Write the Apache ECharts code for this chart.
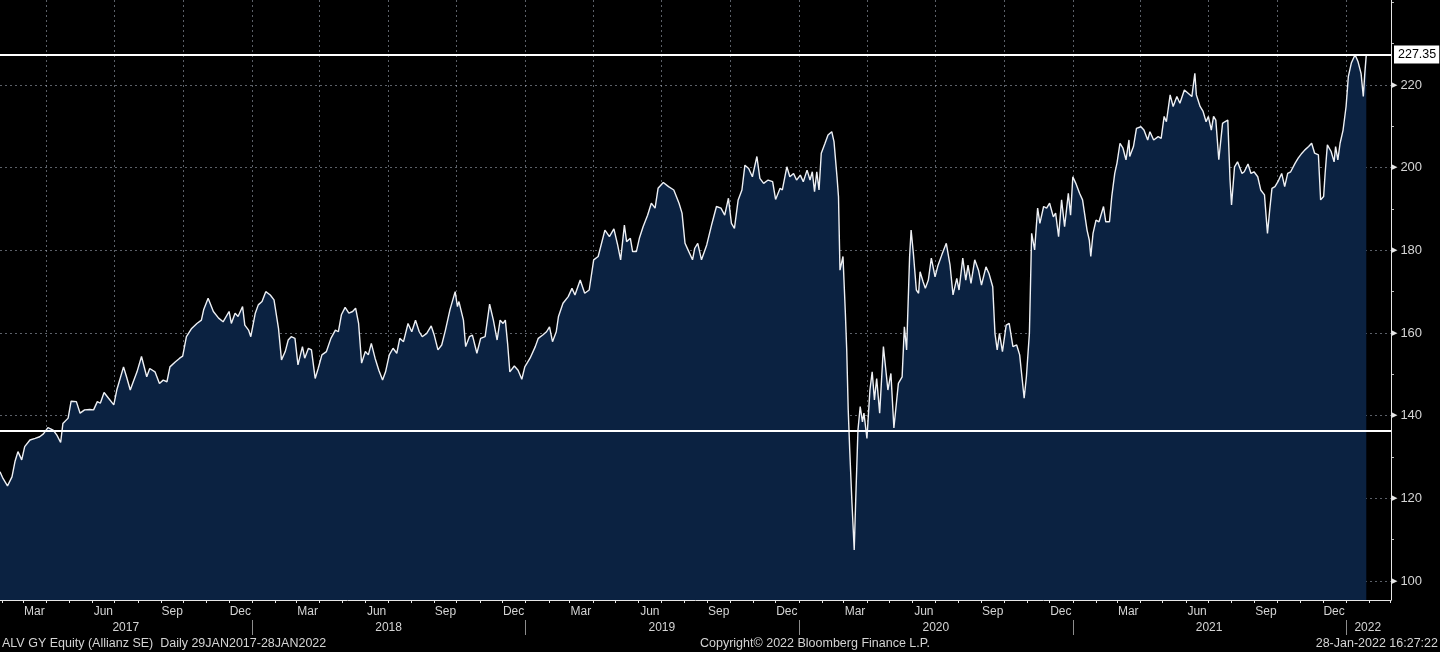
<!DOCTYPE html>
<html><head><meta charset="utf-8">
<script src="https://cdn.jsdelivr.net/npm/echarts@6/dist/echarts.min.js"></script>
<style>html,body{margin:0;padding:0;background:#000;}#c{width:1440px;height:652px;}</style>
</head><body><div id="c"></div>
<script>
// ---- data ----
const dates = [
'2017-01-29','2017-02-02','2017-02-08','2017-02-14','2017-02-18','2017-02-22','2017-02-27','2017-03-03','2017-03-10','2017-03-17',
'2017-03-23','2017-03-28','2017-04-03','2017-04-10','2017-04-15','2017-04-20','2017-04-23','2017-04-30','2017-05-04','2017-05-11',
'2017-05-16','2017-05-22','2017-05-29','2017-06-03','2017-06-08','2017-06-12','2017-06-17','2017-06-23','2017-06-30','2017-07-04',
'2017-07-13','2017-07-17','2017-07-22','2017-07-26','2017-07-31','2017-08-06','2017-08-13','2017-08-17','2017-08-24','2017-08-30',
'2017-09-04','2017-09-09','2017-09-13','2017-09-20','2017-09-26','2017-09-30','2017-10-05','2017-10-12','2017-10-19','2017-10-25',
'2017-10-28','2017-11-03','2017-11-10','2017-11-17','2017-11-23','2017-12-01','2017-12-04','2017-12-09','2017-12-13','2017-12-19',
'2017-12-22','2017-12-27','2017-12-30','2018-01-05','2018-01-09','2018-01-14','2018-01-19','2018-01-25','2018-01-30','2018-02-05',
'2018-02-09','2018-02-14','2018-02-18','2018-02-22','2018-02-27','2018-03-03','2018-03-09','2018-03-12','2018-03-17','2018-03-21',
'2018-03-26','2018-03-30','2018-04-04','2018-04-10','2018-04-16','2018-04-22','2018-04-26','2018-04-30','2018-05-05','2018-05-10',
'2018-05-15','2018-05-19','2018-05-23','2018-05-27','2018-06-01','2018-06-05','2018-06-09','2018-06-14','2018-06-19','2018-06-24',
'2018-06-28','2018-07-03','2018-07-08','2018-07-13','2018-07-17','2018-07-22','2018-07-28','2018-08-02','2018-08-07','2018-08-12',
'2018-08-16','2018-08-22','2018-08-28','2018-09-01','2018-09-06','2018-09-11','2018-09-16','2018-09-22','2018-09-29','2018-10-02',
'2018-10-04','2018-10-10','2018-10-13','2018-10-18','2018-10-22','2018-10-28','2018-11-02','2018-11-08','2018-11-14','2018-11-19',
'2018-11-24','2018-11-28','2018-12-02','2018-12-05','2018-12-08','2018-12-11','2018-12-17','2018-12-22','2018-12-27','2018-12-31',
'2019-01-07','2019-01-14','2019-01-18','2019-01-24','2019-01-29','2019-02-02','2019-02-06','2019-02-11','2019-02-14','2019-02-20',
'2019-02-27','2019-03-04','2019-03-08','2019-03-15','2019-03-21','2019-03-27','2019-04-02','2019-04-08','2019-04-17','2019-04-23',
'2019-04-29','2019-05-04','2019-05-08','2019-05-13','2019-05-16','2019-05-21','2019-05-24','2019-05-29','2019-06-02','2019-06-07',
'2019-06-13','2019-06-18','2019-06-23','2019-06-27','2019-07-04','2019-07-11','2019-07-18','2019-07-25','2019-07-29','2019-08-02',
'2019-08-06','2019-08-12','2019-08-15','2019-08-19','2019-08-24','2019-08-31','2019-09-07','2019-09-13','2019-09-19','2019-09-24',
'2019-09-29','2019-10-03','2019-10-07','2019-10-12','2019-10-17','2019-10-21','2019-10-26','2019-10-31','2019-11-06','2019-11-10',
'2019-11-15','2019-11-21','2019-11-27','2019-12-01','2019-12-07','2019-12-10','2019-12-16','2019-12-20','2019-12-25','2019-12-29',
'2020-01-03','2020-01-07','2020-01-12','2020-01-16','2020-01-19','2020-01-22','2020-01-25','2020-01-28','2020-01-31','2020-02-05',
'2020-02-09','2020-02-14','2020-02-17','2020-02-21','2020-02-23','2020-02-25','2020-02-29','2020-03-03','2020-03-05','2020-03-07',
'2020-03-09','2020-03-12','2020-03-15','2020-03-17','2020-03-20','2020-03-23','2020-03-26','2020-03-28','2020-04-01','2020-04-05',
'2020-04-08','2020-04-11','2020-04-14','2020-04-18','2020-04-23','2020-04-29','2020-05-03','2020-05-07','2020-05-13','2020-05-18',
'2020-05-21','2020-05-24','2020-05-28','2020-05-30','2020-06-02','2020-06-06','2020-06-09','2020-06-11','2020-06-15','2020-06-18',
'2020-06-22','2020-06-26','2020-07-01','2020-07-05','2020-07-10','2020-07-16','2020-07-21','2020-07-25','2020-07-30','2020-08-02',
'2020-08-07','2020-08-11','2020-08-14','2020-08-18','2020-08-23','2020-08-28','2020-09-01','2020-09-07','2020-09-11','2020-09-16',
'2020-09-19','2020-09-22','2020-09-25','2020-09-29','2020-10-04','2020-10-08','2020-10-13','2020-10-18','2020-10-22','2020-10-25',
'2020-10-28','2020-10-31','2020-11-04','2020-11-07','2020-11-11','2020-11-15','2020-11-18','2020-11-23','2020-11-27','2020-12-01',
'2020-12-06','2020-12-09','2020-12-13','2020-12-17','2020-12-21','2020-12-26','2020-12-29','2021-01-01','2021-01-05','2021-01-10',
'2021-01-14','2021-01-20','2021-01-23','2021-01-25','2021-01-28','2021-02-01','2021-02-05','2021-02-11','2021-02-14','2021-02-19',
'2021-02-22','2021-02-26','2021-03-01','2021-03-05','2021-03-09','2021-03-13','2021-03-17','2021-03-18','2021-03-23','2021-03-27',
'2021-04-02','2021-04-06','2021-04-11','2021-04-14','2021-04-19','2021-04-25','2021-04-29','2021-05-03','2021-05-06','2021-05-11',
'2021-05-15','2021-05-20','2021-05-24','2021-05-30','2021-06-04','2021-06-09','2021-06-13','2021-06-15','2021-06-20','2021-06-24',
'2021-06-28','2021-07-01','2021-07-05','2021-07-08','2021-07-11','2021-07-15','2021-07-20','2021-07-23','2021-07-27','2021-07-30',
'2021-08-01','2021-08-05','2021-08-09','2021-08-15','2021-08-18','2021-08-23','2021-08-27','2021-08-31','2021-09-05','2021-09-09',
'2021-09-14','2021-09-18','2021-09-21','2021-09-24','2021-09-28','2021-10-02','2021-10-07','2021-10-11','2021-10-15','2021-10-19',
'2021-10-25','2021-10-29','2021-11-03','2021-11-07','2021-11-12','2021-11-16','2021-11-20','2021-11-25','2021-11-28','2021-12-02',
'2021-12-04','2021-12-07','2021-12-12','2021-12-16','2021-12-18','2021-12-21','2021-12-24','2021-12-28','2022-01-01','2022-01-04',
'2022-01-08','2022-01-13','2022-01-17','2022-01-21','2022-01-24','2022-01-26','2022-01-28'
];
const prices = [
126.4,124.8,123.0,125.2,128.9,131.3,129.3,132.5,134.1,134.5,
134.9,135.6,137.1,136.5,135.3,133.5,138.1,139.4,143.5,143.4,
140.6,141.4,141.5,141.4,143.4,143.0,145.6,144.2,142.6,146.2,
151.8,149.4,146.2,148.2,150.6,154.3,149.4,151.4,150.6,147.8,
148.6,148.2,151.8,153.0,153.9,154.4,159.1,161.1,162.3,163.1,
165.6,168.4,165.2,163.6,162.7,165.2,162.3,164.8,164.0,166.4,
161.9,160.7,159.1,164.8,166.8,167.6,170.0,169.2,168.0,161.1,
153.5,155.5,158.3,159.1,158.7,152.3,156.7,153.9,156.3,155.9,
149.0,151.4,154.7,155.5,158.7,160.7,160.3,164.4,166.2,164.8,
165.2,166.0,162.3,152.7,155.5,154.7,157.5,153.9,151.0,148.6,
150.6,154.7,156.3,155.1,158.7,157.9,162.3,160.3,163.1,160.3,
159.1,159.9,161.7,159.5,155.9,157.1,160.7,165.6,170.0,166.4,
167.6,163.1,156.7,159.1,159.5,155.1,158.7,159.1,167.0,163.1,
158.3,163.1,162.3,163.1,157.5,150.6,152.0,151.0,148.8,151.8,
153.9,156.7,158.7,159.5,160.3,161.5,157.9,160.3,164.0,167.2,
168.8,170.8,169.2,172.8,169.6,170.4,177.7,178.5,184.9,183.3,
185.2,181.3,177.7,186.1,182.1,182.9,179.7,179.7,182.9,185.7,
188.5,191.4,190.2,195.0,196.4,195.4,194.6,191.4,189.0,181.7,
180.1,177.7,180.5,181.7,177.7,181.3,186.5,190.6,190.2,188.5,
192.6,186.5,185.3,192.2,194.6,200.6,199.8,197.8,202.7,197.4,
196.2,197.0,196.6,192.3,195.0,194.6,200.2,197.8,198.6,197.0,
198.2,196.6,199.4,197.0,199.0,194.2,199.0,194.6,203.5,205.9,
207.9,208.7,206.3,197.8,193.0,175.2,178.5,165.6,155.9,141.4,
131.7,118.8,107.5,119.6,136.5,142.2,138.5,140.6,134.5,146.2,
150.6,143.8,149.0,140.6,156.7,146.2,150.2,137.0,147.8,149.4,
161.5,155.9,178.5,184.9,179.3,170.4,169.6,174.8,172.4,170.8,
172.8,178.1,173.6,176.4,178.9,181.7,176.4,169.2,173.2,170.4,
178.1,172.8,176.4,172.0,177.7,175.2,171.6,176.0,174.4,171.2,
159.9,155.9,159.9,155.5,161.9,162.3,156.7,157.1,154.7,149.4,
144.2,149.4,159.9,184.1,180.1,190.2,186.5,190.6,190.2,191.4,
188.1,189.0,183.3,192.2,185.7,193.8,188.5,197.8,196.2,193.8,
192.2,184.9,182.5,178.5,184.1,187.3,186.9,190.6,186.9,186.9,
193.0,198.6,201.1,205.9,204.7,201.9,206.7,202.7,205.1,209.5,
209.9,209.1,206.7,208.7,206.7,207.5,207.1,212.4,211.1,217.6,
214.8,217.2,215.6,218.8,218.0,217.2,222.8,217.6,214.8,213.6,
211.1,212.4,209.1,212.4,211.5,201.9,210.7,211.1,211.5,197.0,
191.0,200.2,201.4,198.6,199.0,200.9,198.6,199.0,197.8,194.6,
193.4,184.1,189.8,195.0,195.4,196.6,198.6,195.4,198.6,199.0,
201.1,202.3,203.5,204.3,205.1,205.9,203.5,203.1,192.2,193.0,
198.6,205.5,203.9,201.4,205.1,201.9,205.9,209.1,214.8,222.0,
225.3,227.3,225.6,222.8,217.2,222.8,227.35
];
const lastPrice = 227.35;
const refLevels = [227.35, 136.3];
const xRange = ['2017-01-29', '2022-03-02'];
const yRange = [95.4, 240.56];
const yLabelValues = [100, 120, 140, 160, 180, 200, 220];
const yMinorValues = [110, 130, 150, 170, 190, 210, 230, 240];
const monthNames = {2: 'Mar', 5: 'Jun', 8: 'Sep', 11: 'Dec'};
const yearLabels = [
  ['2017-07-16', '2017'], ['2018-07-02', '2018'], ['2019-07-02', '2019'],
  ['2020-07-02', '2020'], ['2021-07-02', '2021'], ['2022-01-30', '2022']
];
const footerLeft = 'ALV GY Equity (Allianz SE)  Daily 29JAN2017-28JAN2022';
const footerMid = 'Copyright\u00a9 2022 Bloomberg Finance L.P.';
const footerRight = '28-Jan-2022 16:27:22';

// ---- calendar ticks (axis structure) ----
const xMin = Date.parse(xRange[0]), xMax = Date.parse(xRange[1]);
const monthStarts = [], quarterStarts = [], yearStarts = [], monthMids = [];
for (let y = 2017; y <= 2022; y++) {
  for (let m = 0; m < 12; m++) {
    const t = Date.UTC(y, m, 1);
    if (t > xMin && t <= xMax) {
      monthStarts.push(t);
      if (m % 3 === 0) quarterStarts.push(t);
      if (m === 0) yearStarts.push(t);
    }
    const mid = Date.UTC(y, m, 16);
    if (monthNames[m] && mid > xMin && mid < xMax) monthMids.push(mid);
  }
}
const yearLabelTimes = yearLabels.map(d => Date.parse(d[0]));
const yearTextByTime = {};
yearLabels.forEach(d => { yearTextByTime[Date.parse(d[0])] = d[1]; });

const FONT = '"Liberation Sans", Arial, sans-serif';
const TXT = '#d4d4d4';
const GRID = 'rgba(165,175,190,0.55)';

const chart = echarts.init(document.getElementById('c'), null, {renderer: 'canvas'});
chart.setOption({
  backgroundColor: '#000',
  animation: false,
  grid: {left: 0, right: 49, top: 0, bottom: 52, containLabel: false},
  title: [
    {text: footerLeft, left: -3, top: 632, textStyle: {color: TXT, fontSize: 12.5, fontWeight: 'normal', fontFamily: FONT}},
    {text: footerMid, left: 695, top: 632, textStyle: {color: TXT, fontSize: 12.5, fontWeight: 'normal', fontFamily: FONT}},
    {text: footerRight, right: -3, top: 632, textStyle: {color: TXT, fontSize: 12.5, fontWeight: 'normal', fontFamily: FONT}}
  ],
  xAxis: [
    { // month ticks and month labels
      type: 'value', min: xMin, max: xMax, position: 'bottom',
      axisLine: {show: true, lineStyle: {color: '#e6e6e6', width: 1}},
      axisTick: {show: true, customValues: monthStarts, length: 3, lineStyle: {color: '#e6e6e6'}},
      axisLabel: {show: true, customValues: monthMids, margin: 6, color: TXT, fontSize: 12, fontFamily: FONT,
        formatter: v => monthNames[new Date(v).getUTCMonth()] || ''},
      splitLine: {show: false}
    },
    { // quarterly vertical gridlines
      type: 'value', min: xMin, max: xMax, position: 'bottom', z: 3,
      axisLine: {show: false},
      axisTick: {show: false, customValues: quarterStarts},
      axisLabel: {show: false},
      splitLine: {show: true, lineStyle: {color: GRID, width: 1, type: [2, 3]}}
    },
    { // year separators and labels
      type: 'value', min: xMin, max: xMax, position: 'bottom', offset: 20,
      axisLine: {show: false},
      axisTick: {show: true, customValues: yearStarts, length: 15, lineStyle: {color: '#8c8c8c'}},
      axisLabel: {show: true, customValues: yearLabelTimes, margin: 2, color: TXT, fontSize: 12, fontFamily: FONT,
        formatter: v => yearTextByTime[v] || ''},
      splitLine: {show: false}
    }
  ],
  yAxis: [
    {
      type: 'value', position: 'right', min: yRange[0], max: yRange[1], z: 3,
      axisLine: {show: true, lineStyle: {color: '#e6e6e6', width: 1}},
      axisTick: {show: true, customValues: yLabelValues, length: 2, lineStyle: {color: '#e6e6e6'}},
      axisLabel: {show: true, customValues: yLabelValues, margin: 1, color: TXT, fontSize: 13, fontFamily: FONT,
        formatter: v => '{t|\u25B6}' + v,
        rich: {t: {fontSize: 7, color: '#e6e6e6', fontFamily: '"DejaVu Sans"', padding: [0, 3, 0, 0]}}},
      splitLine: {show: true, lineStyle: {color: GRID, width: 1, type: [2, 3]}}
    },
    {
      type: 'value', position: 'right', min: yRange[0], max: yRange[1],
      axisLine: {show: false},
      axisTick: {show: true, customValues: yMinorValues, length: 3, lineStyle: {color: '#bdbdbd'}},
      axisLabel: {show: false},
      splitLine: {show: false}
    }
  ],
  series: [{
    type: 'line', xAxisIndex: 0, yAxisIndex: 0,
    data: dates.map((d, i) => [Date.parse(d), prices[i]]),
    symbol: 'none', showSymbol: false,
    lineStyle: {color: '#eef0f4', width: 1.4},
    areaStyle: {color: '#0b2241', opacity: 1, origin: 'start'},
    markLine: {
      silent: true, symbol: ['none', 'none'], animation: false,
      lineStyle: {color: '#ffffff', width: 2, type: 'solid'},
      data: [
        {yAxis: refLevels[0], label: {show: true, position: 'end', distance: 3, formatter: String(lastPrice),
          backgroundColor: '#ffffff', color: '#000', fontSize: 12.5, fontFamily: FONT, padding: [3, 3, 2, 4]}},
        {yAxis: refLevels[1], label: {show: false}}
      ]
    }
  }]
});
</script>
</body></html>
